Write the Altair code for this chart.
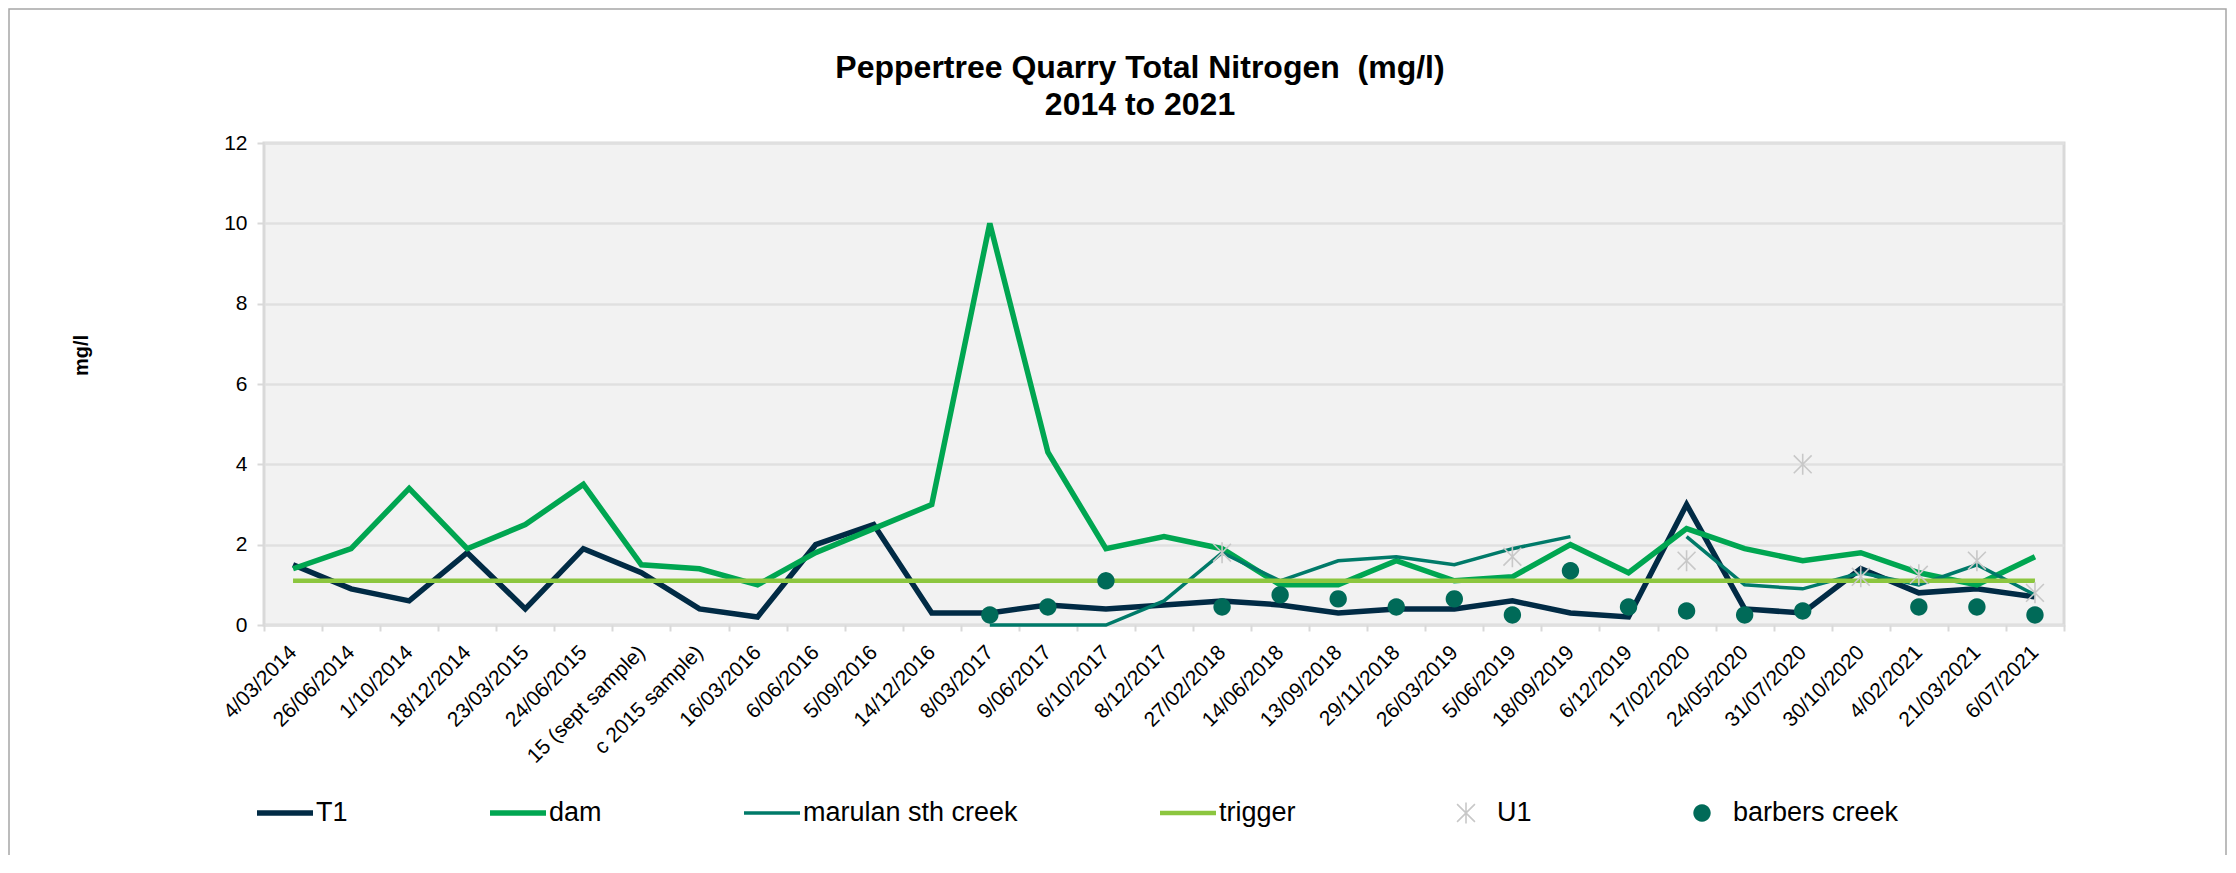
import altair as alt
import pandas as pd
import numpy as np

# ---------------- data ----------------
categories = [
    "4/03/2014", "26/06/2014", "1/10/2014", "18/12/2014", "23/03/2015",
    "24/06/2015", "15 (sept sample)", "c 2015 sample)", "16/03/2016", "6/06/2016",
    "5/09/2016", "14/12/2016", "8/03/2017", "9/06/2017", "6/10/2017",
    "8/12/2017", "27/02/2018", "14/06/2018", "13/09/2018", "29/11/2018",
    "26/03/2019", "5/06/2019", "18/09/2019", "6/12/2019", "17/02/2020",
    "24/05/2020", "31/07/2020", "30/10/2020", "4/02/2021", "21/03/2021",
    "6/07/2021",
]

t1 = [1.5, 0.9, 0.6, 1.8, 0.4, 1.9, 1.3, 0.4, 0.2, 2.0,
      2.5, 0.3, 0.3, 0.5, 0.4, 0.5, 0.6, 0.5, 0.3, 0.4,
      0.4, 0.6, 0.3, 0.2, 3.0, 0.4, 0.3, 1.4, 0.8, 0.9, 0.7]

dam = [1.4, 1.9, 3.4, 1.9, 2.5, 3.5, 1.5, 1.4, 1.0, 1.8,
       2.4, 3.0, 10.0, 4.3, 1.9, 2.2, 1.9, 1.0, 1.0, 1.6,
       1.1, 1.2, 2.0, 1.3, 2.4, 1.9, 1.6, 1.8, 1.3, 1.0, 1.7]

marulan = [None] * 12 + [0.0, 0.0, 0.0, 0.6, 1.8, 1.1, 1.6, 1.7, 1.5, 1.9,
                         2.2, None, 2.2, 1.0, 0.9, 1.3, 1.0, 1.5, 0.75]

trigger = [1.1] * 31

u1 = [None] * 16 + [1.8, None, None, None, None, 1.7, None, None, 1.6, None,
                    4.0, 1.2, 1.25, 1.6, 0.8]

barbers = [None] * 12 + [0.25, 0.45, 1.1, None, 0.45, 0.75, 0.65, 0.45, 0.65, 0.25,
                         1.35, 0.45, 0.35, 0.25, 0.35, None, 0.45, 0.45, 0.25]

series_names = ["T1", "dam", "marulan sth creek", "trigger", "U1", "barbers creek"]
line_series = {"T1": t1, "dam": dam, "marulan sth creek": marulan, "trigger": trigger}


def long_table(series_dict):
    rows = []
    for name, vals in series_dict.items():
        for i, v in enumerate(vals):
            rows.append({"cat": categories[i], "idx": i, "series": name, "value": v})
    return pd.DataFrame(rows)


df_lines = long_table(line_series)
df_u1 = long_table({"U1": u1}).dropna(subset=["value"])
df_bc = long_table({"barbers creek": barbers}).dropna(subset=["value"])

# ---------------- styles ----------------
colors = ["#012B45", "#00A651", "#007A69", "#8CC63F", "#C8C8C8", "#006A58"]
stroke_widths = [5.5, 5.5, 3.5, 4.5, 1.6, 2.2]
sizes = [3136, 3136, 3136, 3136, 441, 320]

ASTER = "M0,-1L0,1M-0.85,-0.85L0.85,0.85M-0.85,0.85L0.85,-0.85"
_parts = []
for r in [0.03, 0.15, 0.29, 0.43, 0.57, 0.71, 0.85]:
    ang = np.linspace(0, 2 * np.pi, 25)[:-1]
    pts = ["%.3f,%.3f" % (r * np.cos(a), r * np.sin(a)) for a in ang]
    _parts.append("M" + "L".join(pts) + "Z")
DISC = "".join(_parts)
shapes = ["stroke", "stroke", "stroke", "stroke", ASTER, DISC]

FONT = "Liberation Sans"

color_scale = alt.Scale(domain=series_names, range=colors)
sw_scale = alt.Scale(type="ordinal", domain=series_names, range=stroke_widths)
size_scale = alt.Scale(type="ordinal", domain=series_names, range=sizes)
shape_scale = alt.Scale(domain=series_names, range=shapes)

legend = alt.Legend(
    title=None, orient="none", legendX=-10, legendY=642,
    direction="horizontal", columns=6, columnPadding=139, clipHeight=56,
    labelFontSize=27, labelFont=FONT, labelColor="#000000", labelOffset=0,
    labelLimit=0,
)

x_enc = alt.X(
    "cat:N", sort=categories,
    scale=alt.Scale(type="band", paddingInner=0, paddingOuter=0),
    bandPosition=0.5,
    axis=alt.Axis(
        title=None, labelAngle=-45, labelFontSize=21, labelFont=FONT,
        labelColor="#000000", labelAlign="right", labelBaseline="middle",
        labelPadding=18, labelLimit=0, tickBand="extent", ticks=True,
        tickColor="#D9D9D9", tickSize=6, tickWidth=2, domain=False, grid=False,
    ),
)

y_enc = alt.Y(
    "value:Q",
    scale=alt.Scale(domain=[0, 12], nice=False),
    axis=alt.Axis(
        values=[0, 2, 4, 6, 8, 10, 12], title="mg/l", titleFont=FONT,
        titleFontSize=20, titleFontWeight="bold", titleColor="#000000",
        titleX=-183, titleY=212, titleAngle=-90, titleAlign="center",
        titleBaseline="middle",
        labelFontSize=21, labelFont=FONT, labelColor="#000000", labelPadding=10,
        tickSize=7, tickColor="#D9D9D9", tickWidth=2,
        gridColor="#E0E0E0", gridWidth=2.5, domain=False,
    ),
)

frame = alt.Chart(pd.DataFrame({"k": [0]})).mark_rect(
    fillOpacity=0, stroke="#A6A6A6", strokeWidth=1.5
).encode(
    x=alt.value(-255), x2=alt.value(1962), y=alt.value(-134), y2=alt.value(900)
)

lines = alt.Chart(df_lines).mark_line(opacity=1).encode(
    x=x_enc, y=y_enc,
    color=alt.Color("series:N", scale=color_scale, legend=legend),
    strokeWidth=alt.StrokeWidth("series:N", scale=sw_scale, legend=legend),
    order=alt.Order("idx:Q"),
)


def point_layer(df):
    return alt.Chart(df).mark_point(filled=False, opacity=1).encode(
        x=x_enc, y=y_enc,
        color=alt.Color("series:N", scale=color_scale, legend=legend),
        strokeWidth=alt.StrokeWidth("series:N", scale=sw_scale, legend=legend),
        shape=alt.Shape("series:N", scale=shape_scale, legend=legend),
        size=alt.Size("series:N", scale=size_scale, legend=legend),
    )


chart = alt.layer(frame, lines, point_layer(df_u1), point_layer(df_bc)).properties(
    width=1800, height=482,
    title=alt.TitleParams(
        text=["Peppertree Quarry Total Nitrogen \u00a0(mg/l)", "2014 to 2021"],
        fontSize=32, fontWeight="bold", font=FONT, color="#000000",
        lineHeight=37, anchor="middle", offset=12, dx=-24, dy=126,
    ),
    padding={"left": 256, "top": 135, "right": 164, "bottom": 230},
    autosize=alt.AutoSizeParams(type="none"),
).configure(
    font=FONT, background="#FFFFFF",
).configure_view(
    fill="#F2F2F2", stroke="#D9D9D9", strokeWidth=3,
)

chart.save("out.html", embed_options={"renderer": "svg", "actions": False})
